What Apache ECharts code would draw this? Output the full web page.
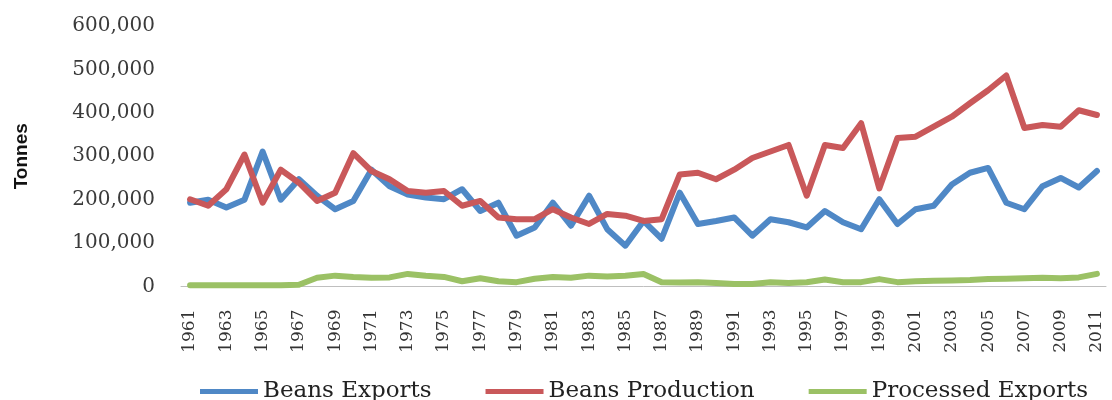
<!DOCTYPE html>
<html>
<head>
<meta charset="utf-8">
<script src="https://cdn.jsdelivr.net/npm/echarts@6/dist/echarts.min.js"></script>
<style>html,body{margin:0;padding:0;background:#fff;}#c{width:1112px;height:400px;}</style>
</head>
<body>
<div id="c"></div>
<script>
var years = ['1961','1962','1963','1964','1965','1966','1967','1968','1969','1970',
  '1971','1972','1973','1974','1975','1976','1977','1978','1979','1980',
  '1981','1982','1983','1984','1985','1986','1987','1988','1989','1990',
  '1991','1992','1993','1994','1995','1996','1997','1998','1999','2000',
  '2001','2002','2003','2004','2005','2006','2007','2008','2009','2010','2011'];
var beansExports = [193000,200000,182000,200000,311000,200000,247000,209000,178000,197000,
  269000,231000,212000,205000,201000,224000,174000,193000,117000,136000,
  193000,140000,209000,132000,94000,151000,110000,216000,144000,151000,
  159000,117000,155000,148000,136000,174000,148000,132000,201000,144000,
  178000,186000,235000,262000,273000,193000,178000,231000,250000,228000,266000];
var beansProduction = [201000,186000,224000,304000,193000,269000,239000,197000,216000,307000,
  266000,247000,220000,216000,220000,186000,197000,159000,155000,155000,
  178000,159000,144000,167000,163000,151000,155000,258000,262000,247000,
  269000,296000,311000,326000,209000,326000,319000,376000,226000,342000,
  345000,368000,391000,422000,452000,486000,365000,372000,368000,406000,395000];
var processedExports = [3000,3000,3000,3000,3000,3000,4000,20000,25000,22000,
  20000,21000,29000,25000,22000,12000,19000,12000,10000,18000,
  22000,20000,25000,23000,25000,29000,10000,9000,10000,8000,
  6000,6000,10000,8000,10000,16000,10000,10000,17000,10000,
  12000,13000,14000,15000,17000,18000,19000,20000,19000,21000,29000];
var yTicks = {min: 0, max: 600000, interval: 100000};

var chart = echarts.init(document.getElementById('c'), null, {renderer: 'canvas'});
function lineSeries(name, data, color) {
  return {
    name: name, type: 'line', data: data, showSymbol: false, symbol: 'none',
    lineStyle: {width: 6, color: color, join: 'round', cap: 'round'},
    itemStyle: {color: color}
  };
}
chart.setOption({
  animation: false,
  grid: {left: 181, right: 6, top: 26, bottom: 113.5, containLabel: false},
  legend: {
    left: 195, top: 375, icon: 'rect', itemWidth: 58, itemHeight: 5, itemGap: 54,
    textStyle: {fontFamily: 'DejaVu Serif', fontSize: 23, color: '#222'},
    data: ['Beans Exports', 'Beans Production', 'Processed Exports']
  },
  xAxis: {
    type: 'category', data: years, boundaryGap: true,
    axisLine: {show: true, lineStyle: {color: '#bfbfbf', width: 1}},
    axisTick: {show: false},
    axisLabel: {interval: 1, rotate: 90, margin: 23, fontFamily: 'DejaVu Serif', fontSize: 17, color: '#333'}
  },
  yAxis: {
    type: 'value', min: yTicks.min, max: yTicks.max, interval: yTicks.interval,
    name: 'Tonnes', nameLocation: 'middle', nameRotate: 90, nameGap: 150,
    nameTextStyle: {fontFamily: 'Liberation Sans', fontWeight: 'bold', fontSize: 19, color: '#111'},
    axisLine: {show: false}, axisTick: {show: false}, splitLine: {show: false},
    axisLabel: {margin: 26, fontFamily: 'DejaVu Serif', fontSize: 20, color: '#3a3a3a',
      formatter: function (v) { return v.toLocaleString('en-US'); }}
  },
  series: [
    lineSeries('Beans Exports', beansExports, '#4f88c6'),
    lineSeries('Beans Production', beansProduction, '#c9585a'),
    lineSeries('Processed Exports', processedExports, '#9bc165')
  ]
});
</script>
</body>
</html>
